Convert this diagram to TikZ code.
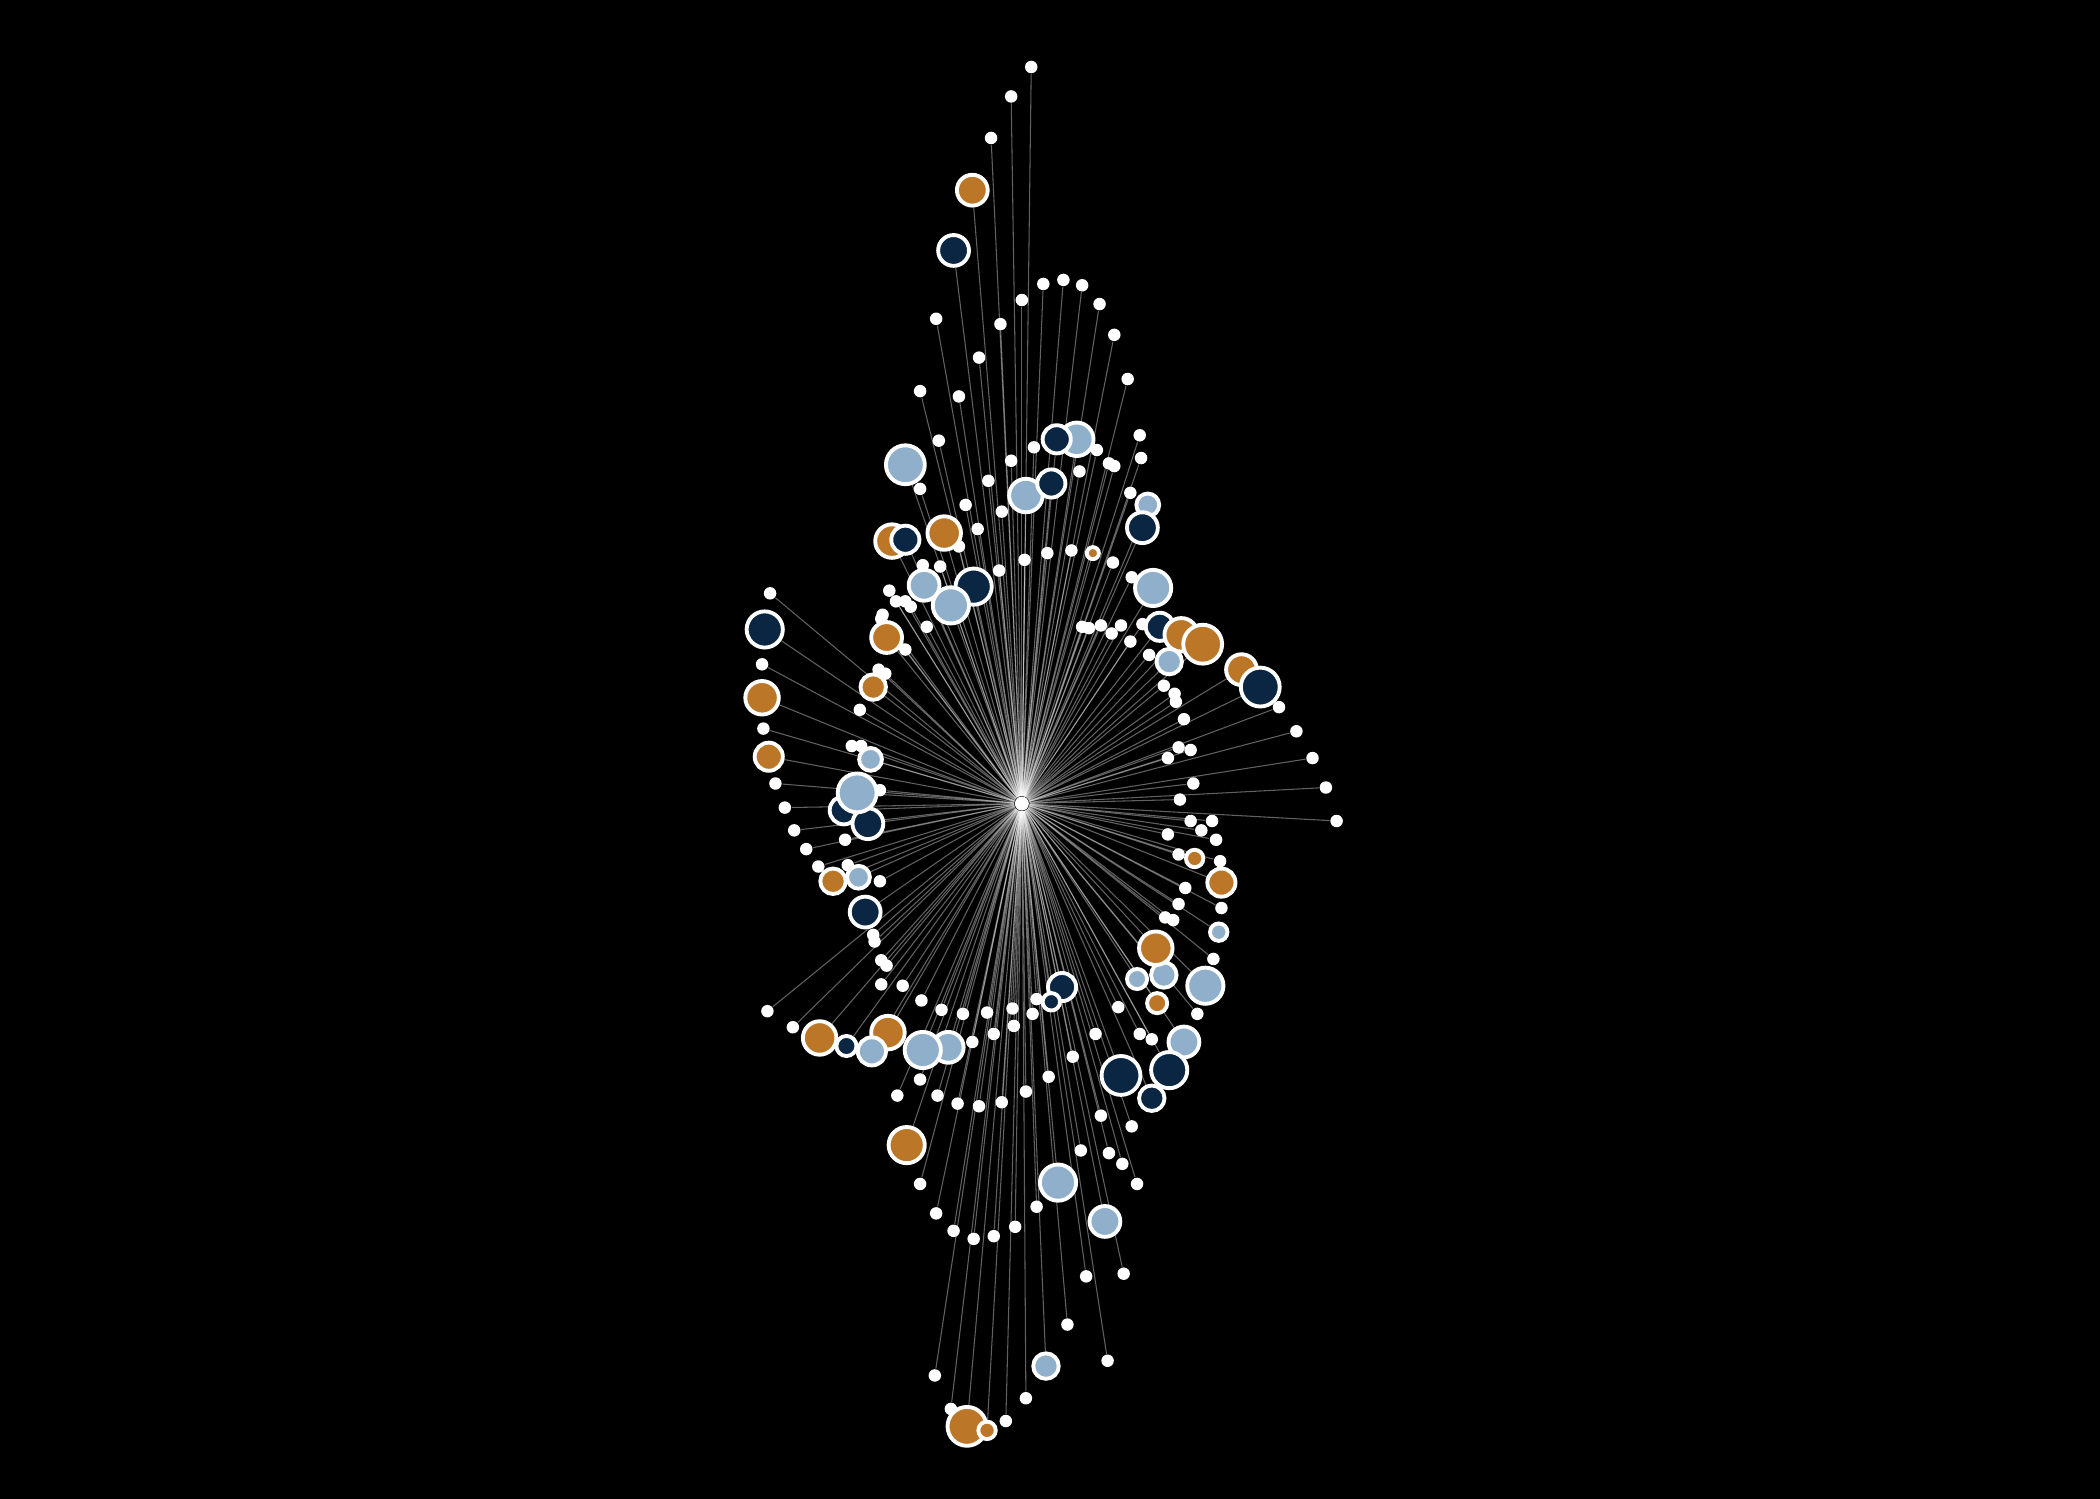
\documentclass[tikz,border=0pt]{standalone}
\usepackage{tikz}
\usepackage{xcolor}
\definecolor{dotO}{HTML}{BC7628}
\definecolor{dotN}{HTML}{0B2642}
\definecolor{dotB}{HTML}{8FAFCB}
\pgfdeclarelayer{backdrop}
\pgfdeclarelayer{edges}
\pgfsetlayers{backdrop,edges,main}
\tikzset{
  leaf/.style   ={circle, fill=white, inner sep=0pt, minimum size=1.25mm},
  hub/.style    ={leaf, minimum size=1.4mm},
  bubble/.style ={circle, draw=white, line width=1.1pt, inner sep=0pt,
                  minimum size={0.268mm*#1-0.4mm}},
  link/.style   ={draw=white, draw opacity=0.38, line width=0.3pt},
}

\begin{document}
\begin{tikzpicture}[x=0.013393cm, y=-0.013393cm]
  \begin{pgfonlayer}{backdrop}
    \fill[black] (0,0) rectangle (1568,1119);
  \end{pgfonlayer}
  \node[hub] (hub) at (763,600) {};
  % plain leaves
  \foreach \x/\y [count=\i] in {770/50, 755/72, 740/103, 699/238, 747/242, 731/267,
      763/224, 779/212, 794/209, 808/213, 821/227, 832/250, 842/283, 687/292,
      716/296, 701/329, 687/365, 851/325, 852/342, 772/334, 819/336, 828/346,
      832/348, 755/344, 738/359, 806/352, 748/382, 721/377, 730/395, 716/408,
      844/368, 765/418, 782/413, 800/411, 831/420, 746/426, 702/423, 689/422,
      664/441, 676/449, 680/453, 692/468, 659/459, 845/431, 808/468, 813/469,
      822/467, 830/473, 837/467, 853/466, 844/479, 858/489, 955/528, 869/512,
      877/518, 878/524, 884/537, 968/546, 880/558, 889/560, 872/566, 980/566,
      891/585, 990/588, 881/597, 998/613, 889/613, 905/613, 872/623, 897/620,
      908/627, 880/638, 911/643, 885/663, 880/675, 912/678, 870/685, 876/687,
      906/716, 894/757, 835/752, 851/772, 860/776, 818/772, 801/789, 783/804,
      822/833, 845/841, 807/859, 828/861, 838/869, 849/884, 774/901, 758/916,
      742/923, 727/925, 712/919, 699/906, 687/884, 670/818, 687/806, 700/818,
      715/824, 731/826, 748/823, 766/815, 839/951, 811/953, 797/989, 827/1016,
      766/1044, 751/1061, 698/1027, 710/1052, 774/746, 771/757, 756/753, 757/766,
      742/772, 737/756, 719/757, 703/754, 688/747, 674/736, 658/735, 662/721,
      658/717, 653/703, 652/698, 726/778, 592/767, 573/755, 657/658, 633/646,
      611/647, 602/634, 631/627, 593/620, 657/590, 586/603, 579/585, 636/557,
      643/557, 570/544, 642/530, 656/500, 661/503, 569/496, 575/443, 658/462,
      676/485, 669/449} {
    \node[leaf] (w\i) at (\x,\y) {};
    \begin{pgfonlayer}{edges}
      \draw[link] (hub) -- (w\i);
    \end{pgfonlayer}
  }
  % coloured leaves, drawn in stacking order
  \foreach \x/\y/\r/\c [count=\i] in {726/142/13/O, 712/187/13/N, 676/347/16/B,
      804/328/14/B, 789/328/12/N, 766/370/14/B, 785/361/12/N, 705/398/14/O,
      666/404/14/O, 676/403/12/N, 857/377/10/B, 853/394/13/N, 816/413/6/O,
      690/437/13/B, 727/438/15/N, 710/452/15/B, 861/439/15/B, 866/468/12/N,
      882/474/14/O, 898/481/16/O, 873/494/11/B, 927/500/13/O, 941/513/16/N,
      662/476/13/O, 652/513/11/O, 571/470/15/N, 569/521/14/O, 574/565/12/O,
      650/567/10/B, 630/605/12/N, 648/615/13/N, 640/592/16/B, 641/655/10/B,
      622/658/11/O, 646/681/13/N, 892/641/8/O, 912/659/12/O, 910/696/8/B,
      900/736/15/B, 849/731/9/B, 869/728/11/B, 863/708/14/O, 864/749/9/O,
      884/778/13/B, 873/799/15/N, 837/803/16/N, 860/820/11/N, 793/737/12/N,
      785/748/8/N, 612/775/14/O, 663/771/14/O, 632/781/9/N, 651/785/12/B,
      708/782/13/B, 689/784/15/B, 677/855/15/O, 790/883/15/B, 825/912/13/B,
      781/1020/11/B, 722/1065/16/O, 737/1068/8/O} {
    \node[bubble=\r, fill=dot\c] (c\i) at (\x,\y) {};
    \begin{pgfonlayer}{edges}
      \draw[link] (hub) -- (c\i);
    \end{pgfonlayer}
  }
\end{tikzpicture}
\end{document}
